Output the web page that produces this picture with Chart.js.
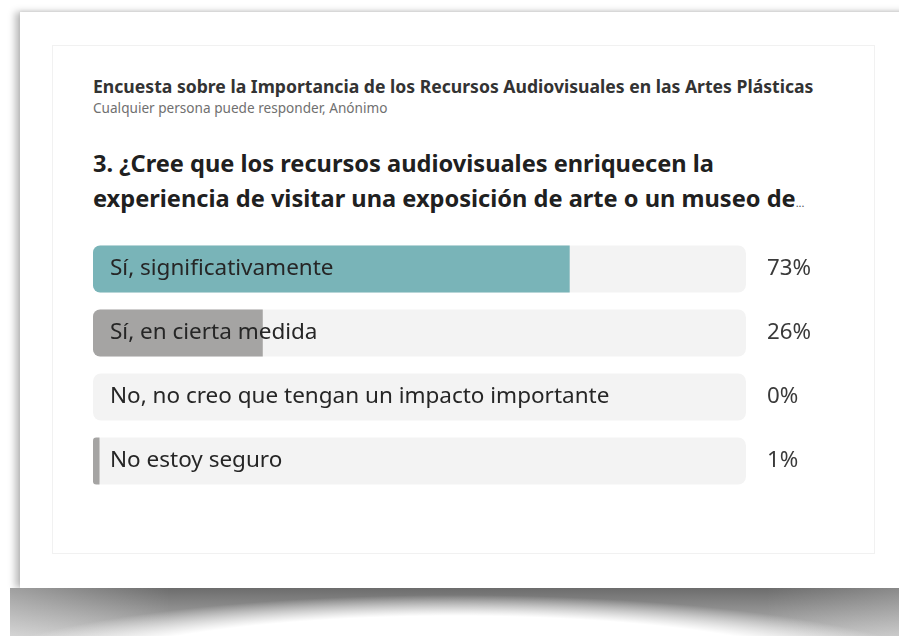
<!DOCTYPE html>
<html lang="es">
<head>
<meta charset="utf-8">
<script src="https://cdn.jsdelivr.net/npm/chart.js@4.4.1/dist/chart.umd.min.js"></script>
<style>
    body {
        margin: 0;
        width: 899px;
        height: 636px;
        overflow: hidden;
        position: relative;
        background: #fff;
        font-family: "Noto Sans", sans-serif;
    }
    .photo {
        position: absolute;
        left: 20px;
        top: 12px;
        width: 900px;
        height: 576px;
        background: #fff;
        box-shadow: -5px 0 7px rgba(0, 0, 0, 0.26), 0 -1px 3px rgba(0, 0, 0, 0.07);
    }
    .curl {
        position: absolute;
        left: 10px;
        top: 588px;
        width: 889px;
        height: 48px;
        background:
            radial-gradient(ellipse 520px 95px at 445px 102px, #fff 0%, #fff 78%, rgba(255, 255, 255, 0) 100%),
            linear-gradient(to right, rgba(255, 255, 255, 0.35), rgba(255, 255, 255, 0) 18%, rgba(255, 255, 255, 0) 85%, rgba(255, 255, 255, 0.2)),
            linear-gradient(to bottom, #6c6c6c, #bdbdbd);
    }
    .card {
        position: absolute;
        left: 52px;
        top: 45px;
        width: 823px;
        height: 509px;
        border: 1px solid #f1f1f1;
        box-sizing: border-box;
    }
    .title {
        position: absolute;
        left: 93px;
        top: 74px;
        font-size: 17.6px;
        line-height: 24px;
        font-weight: bold;
        color: #333;
        white-space: nowrap;
    }
    .subtitle {
        position: absolute;
        left: 93px;
        top: 98px;
        font-size: 13.6px;
        line-height: 19px;
        color: #707070;
        white-space: nowrap;
    }
    .question {
        position: absolute;
        left: 93px;
        top: 146px;
        font-size: 23.6px;
        line-height: 35px;
        font-weight: bold;
        color: #202020;
        white-space: nowrap;
    }
    .question .dots {
        font-size: 11px;
        font-weight: normal;
        color: #555;
    }
    .chart-box {
        position: absolute;
        left: 93px;
        top: 237px;
        width: 733px;
        height: 256px;
    }
</style>
</head>
<body>
    <div class="photo"></div>
    <div class="curl"></div>
    <div class="card"></div>
    <div class="title">Encuesta sobre la Importancia de los Recursos Audiovisuales en las Artes Plásticas</div>
    <div class="subtitle">Cualquier persona puede responder, Anónimo</div>
    <div class="question">3. ¿Cree que los recursos audiovisuales enriquecen la<br>experiencia de visitar una exposición de arte o un museo de<span class="dots">...</span></div>
    <div class="chart-box"><canvas id="chart"></canvas></div>

<script>
// Données du sondage
const categories = [
    'Sí, significativamente',
    'Sí, en cierta medida',
    'No, no creo que tengan un impacto importante',
    'No estoy seguro'
];
const percentages = [73, 26, 0, 1];
const trackValues = [100, 100, 100, 100];
const barColors = ['#79b4b8', '#a5a4a3', '#a5a4a3', '#a5a4a3'];
const pctLabels = percentages.map(p => p + '%');

document.addEventListener('DOMContentLoaded', () => {
    const ctx = document.getElementById('chart').getContext('2d');
    const barPct = 47 / 64;

    // largeur fixe des axes, sans marge pour les étiquettes
    const fixAxis = (width) => (scale) => {
        scale.width = width;
        scale.paddingTop = 0;
        scale.paddingBottom = 0;
        scale.paddingLeft = 0;
        scale.paddingRight = 0;
    };

    new Chart(ctx, {
        type: 'bar',
        data: {
            labels: categories,
            datasets: [
                {
                    data: percentages,
                    backgroundColor: barColors,
                    grouped: false,
                    order: 0,
                    barPercentage: barPct,
                    categoryPercentage: 1,
                    borderSkipped: false,
                    borderRadius: { topLeft: 7, bottomLeft: 7, topRight: 0, bottomRight: 0 }
                },
                {
                    // fond gris des barres
                    data: trackValues,
                    backgroundColor: '#f3f3f3',
                    grouped: false,
                    order: 1,
                    barPercentage: barPct,
                    categoryPercentage: 1,
                    borderSkipped: false,
                    borderRadius: 8
                }
            ]
        },
        options: {
            indexAxis: 'y',
            responsive: true,
            maintainAspectRatio: false,
            animation: false,
            layout: { padding: 0 },
            plugins: {
                legend: { display: false },
                tooltip: { enabled: false }
            },
            scales: {
                x: {
                    min: 0,
                    max: 100,
                    display: false
                },
                y: {
                    type: 'category',
                    position: 'left',
                    offset: true,
                    grid: { display: false, drawTicks: false },
                    border: { display: false },
                    ticks: {
                        mirror: true,
                        z: 1, // étiquettes au-dessus des barres
                        padding: 17,
                        color: '#262626',
                        font: { family: 'Noto Sans', size: 22.5 }
                    },
                    afterFit: fixAxis(0)
                },
                y2: {
                    type: 'category',
                    labels: pctLabels,
                    position: 'right',
                    offset: true,
                    grid: { display: false, drawTicks: false },
                    border: { display: false },
                    ticks: {
                        padding: 21,
                        color: '#3a3a3a',
                        font: { family: 'Noto Sans', size: 22.3 }
                    },
                    afterFit: fixAxis(80)
                }
            }
        }
    });
});
</script>
</body>
</html>
